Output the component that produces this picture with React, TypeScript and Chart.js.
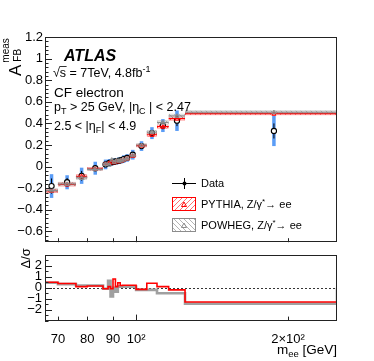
import React, { useEffect, useRef } from "react";
import { Chart, registerables } from "chart.js";
Chart.register(...registerables);

const FONT = '"Liberation Sans", Arimo, Arial, Helvetica, sans-serif';

// ---------- data ----------
const binEdges = [66, 70, 76, 80, 86, 88, 89, 90, 91, 92, 93, 94, 95, 97, 100, 105, 110, 116, 125, 250];
const dataAfb = [-0.18, -0.145, -0.085, -0.015, 0.02, 0.035, 0.04, 0.045, 0.05, 0.055, 0.06, 0.07, 0.08, 0.11, 0.19, 0.31, 0.38, 0.425, 0.33];
const dataTotErr = [0.11, 0.065, 0.075, 0.06, 0.045, 0.035, 0.03, 0.03, 0.03, 0.03, 0.03, 0.035, 0.035, 0.045, 0.045, 0.055, 0.06, 0.095, 0.14];
const dataStatErr = [0.07, 0.04, 0.045, 0.03, 0.02, 0.015, 0.012, 0.012, 0.012, 0.012, 0.012, 0.015, 0.015, 0.02, 0.025, 0.03, 0.035, 0.05, 0.07];
const pythiaAfb = [-0.225, -0.165, -0.09, -0.02, 0.025, 0.035, 0.045, 0.04, 0.05, 0.05, 0.055, 0.065, 0.075, 0.1, 0.195, 0.295, 0.37, 0.445, 0.49];
const powhegAfb = [-0.22, -0.16, -0.105, -0.025, 0.025, 0.02, 0.065, 0.045, 0.06, 0.055, 0.057, 0.065, 0.075, 0.105, 0.2, 0.32, 0.41, 0.47, 0.505];
const pythiaErr = [0.015, 0.015, 0.015, 0.012, 0.012, 0.012, 0.012, 0.012, 0.012, 0.012, 0.012, 0.012, 0.012, 0.012, 0.012, 0.015, 0.015, 0.015, 0.01];
const powhegErr = [0.015, 0.015, 0.015, 0.012, 0.012, 0.012, 0.012, 0.012, 0.012, 0.012, 0.012, 0.012, 0.012, 0.012, 0.012, 0.015, 0.015, 0.015, 0.012];
const pythiaPull = [0.5, 0.38, 0.1, 0.15, -0.1, 0.1, -0.1, 0.8, 0.1, 0.45, 0.2, 0.23, 0.23, 0.23, -0.15, 0.4, 0.1, -0.2, -1.3];
const powhegPull = [0.45, 0.33, 0.2, 0.2, -0.1, 0.63, -0.8, 0.0, -0.37, 0.13, 0.1, 0.1, 0.1, 0.1, -0.2, -0.2, -0.5, -0.5, -1.45];

const mainYTicks = [-0.6, -0.4, -0.2, 0, 0.2, 0.4, 0.6, 0.8, 1, 1.2];
const ratioYTicks = [-2, -1, 0, 1, 2];
const xTicks = [70, 80, 90, 100, 200];
const xTickLabels = ["70", "80", "90", "10²", "2×10²"];

const X_MIN = 66, X_MAX = 250;
const Y_MIN = -0.7, Y_MAX = 1.2;
const R_MIN = -3, R_MAX = 3;

const binCenters = binEdges.slice(0, -1).map((lo, i) => (lo + binEdges[i + 1]) / 2);

const BLUE = "#5a9cf6";
const RED = "#ff0000";
const GRAY = "#8c8c8c";

function fmtY(v: number) {
  const s = Math.abs(v) < 1e-9 ? "0" : Number.isInteger(v) ? String(Math.abs(v)) : Math.abs(v).toFixed(1);
  return v < -1e-9 ? "\u2212" + s : s;
}

type Seg = { t: string; size: number; dy?: number; font?: string };
function drawRich(ctx: CanvasRenderingContext2D, x: number, y: number, segs: Seg[], align: "left" | "right" = "left") {
  const widths = segs.map((s) => {
    ctx.font = `${s.font || ""} ${s.size}px ${FONT}`;
    return ctx.measureText(s.t).width;
  });
  const total = widths.reduce((a, b) => a + b, 0);
  let cx = align === "right" ? x - total : x;
  ctx.textAlign = "left";
  segs.forEach((s, i) => {
    ctx.font = `${s.font || ""} ${s.size}px ${FONT}`;
    ctx.fillText(s.t, cx, y + (s.dy || 0));
    cx += widths[i];
  });
  return total;
}

function makeHatch(ctx: CanvasRenderingContext2D, color: string, dir: number) {
  const c = document.createElement("canvas");
  c.width = 5;
  c.height = 5;
  const g = c.getContext("2d")!;
  g.strokeStyle = color;
  g.lineWidth = 0.8;
  g.beginPath();
  if (dir > 0) {
    g.moveTo(0, 5); g.lineTo(5, 0);
    g.moveTo(-1, 1); g.lineTo(1, -1);
    g.moveTo(4, 6); g.lineTo(6, 4);
  } else {
    g.moveTo(0, 0); g.lineTo(5, 5);
    g.moveTo(-1, 4); g.lineTo(1, 6);
    g.moveTo(4, -1); g.lineTo(6, 1);
  }
  g.stroke();
  return ctx.createPattern(c, "repeat")!;
}

function triangle(ctx: CanvasRenderingContext2D, x: number, y: number, s: number, color: string) {
  ctx.beginPath();
  ctx.moveTo(x, y - s);
  ctx.lineTo(x + s, y + s * 0.8);
  ctx.lineTo(x - s, y + s * 0.8);
  ctx.closePath();
  ctx.strokeStyle = color;
  ctx.lineWidth = 1;
  ctx.stroke();
}

function drawFrame(ctx: CanvasRenderingContext2D, a: { left: number; right: number; top: number; bottom: number }) {
  ctx.strokeStyle = "#222";
  ctx.lineWidth = 1;
  ctx.strokeRect(Math.round(a.left) + 0.5, Math.round(a.top) + 0.5, Math.round(a.right) - Math.round(a.left) - 1, Math.round(a.bottom) - Math.round(a.top) - 1);
}

const mainPlugin = {
  id: "mainDecor",
  beforeDatasetsDraw(chart: any) {
    const ctx: CanvasRenderingContext2D = chart.ctx;
    const x = chart.scales.x, y = chart.scales.y;
    ctx.save();
    binCenters.forEach((c, i) => {
      const px = x.getPixelForValue(c);
      ctx.strokeStyle = BLUE;
      ctx.lineWidth = 3.5;
      ctx.beginPath();
      ctx.moveTo(px, y.getPixelForValue(dataAfb[i] + dataTotErr[i]));
      ctx.lineTo(px, y.getPixelForValue(dataAfb[i] - dataTotErr[i]));
      ctx.stroke();
      ctx.strokeStyle = "#000";
      ctx.lineWidth = 1;
      ctx.beginPath();
      ctx.moveTo(px, y.getPixelForValue(dataAfb[i] + dataStatErr[i]));
      ctx.lineTo(px, y.getPixelForValue(dataAfb[i] - dataStatErr[i]));
      ctx.stroke();
    });
    ctx.restore();
  },
  afterDatasetsDraw(chart: any) {
    const ctx: CanvasRenderingContext2D = chart.ctx;
    const x = chart.scales.x, y = chart.scales.y;
    const a = chart.chartArea;
    const redHatch = makeHatch(ctx, "rgba(255,0,0,0.7)", 1);
    const grayHatch = makeHatch(ctx, "rgba(120,120,120,0.7)", -1);
    ctx.save();
    const drawMC = (vals: number[], errs: number[], pat: CanvasPattern, color: string) => {
      vals.forEach((v, i) => {
        const x0 = x.getPixelForValue(binEdges[i]);
        const x1 = x.getPixelForValue(binEdges[i + 1]);
        const y0 = y.getPixelForValue(v + errs[i]);
        const y1 = y.getPixelForValue(v - errs[i]);
        ctx.fillStyle = pat;
        ctx.fillRect(x0, y0, x1 - x0, y1 - y0);
        ctx.globalAlpha = 0.4;
        ctx.strokeStyle = color;
        ctx.lineWidth = 0.8;
        ctx.strokeRect(x0 + 0.5, y0, x1 - x0 - 1, y1 - y0);
        ctx.globalAlpha = 1;
        ctx.lineWidth = 1.2;
        ctx.beginPath();
        ctx.moveTo(x0, y.getPixelForValue(v));
        ctx.lineTo(x1, y.getPixelForValue(v));
        ctx.stroke();
        triangle(ctx, x.getPixelForValue(binCenters[i]), y.getPixelForValue(v), 2, color);
      });
    };
    ctx.beginPath();
    ctx.rect(a.left, a.top, a.right - a.left, a.bottom - a.top);
    ctx.clip();
    drawMC(pythiaAfb, pythiaErr, redHatch, RED);
    drawMC(powhegAfb, powhegErr, grayHatch, GRAY);
    ctx.restore();

    ctx.save();
    // frame and ticks
    drawFrame(ctx, a);
    ctx.strokeStyle = "#222";
    ctx.lineWidth = 1;
    ctx.beginPath();
    mainYTicks.forEach((v) => {
      const py = Math.round(y.getPixelForValue(v)) + 0.5;
      ctx.moveTo(a.left, py);
      ctx.lineTo(a.left + 7, py);
    });
    for (let k = 0; k <= 47; k++) {
      const v = -0.68 + k * 0.04;
      if (v > Y_MAX + 1e-6) break;
      const py = Math.round(y.getPixelForValue(v)) + 0.5;
      ctx.moveTo(a.left, py);
      ctx.lineTo(a.left + 3.5, py);
    }
    xTicks.forEach((v) => {
      const px = Math.round(x.getPixelForValue(v)) + 0.5;
      ctx.moveTo(px, a.bottom);
      ctx.lineTo(px, a.bottom - (v === 100 ? 6 : 4));
    });
    ctx.stroke();

    // y title
    ctx.fillStyle = "#000";
    ctx.textBaseline = "alphabetic";
    ctx.save();
    ctx.translate(20.5, 76);
    ctx.rotate(-Math.PI / 2);
    ctx.font = `17px ${FONT}`;
    ctx.fillText("A", 0, 0);
    const wA = ctx.measureText("A").width;
    ctx.font = `10px ${FONT}`;
    ctx.fillText("FB", wA + 3, 0.5);
    ctx.fillText("meas", wA + 2, -12);
    ctx.restore();

    // labels
    ctx.font = `italic bold 16px ${FONT}`;
    ctx.fillText("ATLAS", 64, 61);
    // sqrt s line
    ctx.font = `12.5px ${FONT}`;
    ctx.fillText("\u221A", 53, 77);
    const wSq = ctx.measureText("\u221A").width;
    const wS = ctx.measureText("s").width;
    ctx.beginPath();
    ctx.moveTo(53 + wSq - 0.5, 66.5);
    ctx.lineTo(53 + wSq + wS + 0.5, 66.5);
    ctx.lineWidth = 0.8;
    ctx.strokeStyle = "#000";
    ctx.stroke();
    drawRich(ctx, 53 + wSq, 77, [
      { t: "s = 7TeV, 4.8fb", size: 12.5 },
      { t: "-1", size: 9, dy: -5 },
    ]);
    drawRich(ctx, 54, 97, [{ t: "CF electron", size: 13.5 }]);
    drawRich(ctx, 54, 111, [
      { t: "p", size: 12.5 },
      { t: "T", size: 9, dy: 3 },
      { t: " > 25 GeV, |\u03B7", size: 12.5 },
      { t: "C", size: 9, dy: 3 },
      { t: " | < 2.47", size: 12.5 },
    ]);
    drawRich(ctx, 54, 130, [
      { t: "2.5 < |\u03B7", size: 12.5 },
      { t: "F", size: 9, dy: 3 },
      { t: "| < 4.9", size: 12.5 },
    ]);

    // legend
    ctx.strokeStyle = "#000";
    ctx.lineWidth = 1;
    ctx.beginPath();
    ctx.moveTo(172, 183.5);
    ctx.lineTo(196, 183.5);
    ctx.moveTo(184.5, 178);
    ctx.lineTo(184.5, 189);
    ctx.stroke();
    ctx.beginPath();
    ctx.arc(184.5, 183.5, 2, 0, Math.PI * 2);
    ctx.fillStyle = "#000";
    ctx.fill();

    ctx.fillStyle = redHatch;
    ctx.fillRect(172.5, 197.5, 23, 13);
    ctx.strokeStyle = RED;
    ctx.strokeRect(172.5, 197.5, 23, 13);
    triangle(ctx, 184, 204.5, 2.5, RED);

    ctx.fillStyle = grayHatch;
    ctx.fillRect(172.5, 218.5, 23, 13);
    ctx.strokeStyle = GRAY;
    ctx.strokeRect(172.5, 218.5, 23, 13);
    triangle(ctx, 184, 225.5, 2.5, GRAY);

    ctx.fillStyle = "#000";
    ctx.textBaseline = "middle";
    drawRich(ctx, 201, 184, [{ t: "Data", size: 11 }]);
    drawRich(ctx, 201, 205, [
      { t: "PYTHIA, Z/\u03B3", size: 11 },
      { t: "*", size: 8, dy: -3 },
      { t: "\u2192 ee", size: 11 },
    ]);
    drawRich(ctx, 201, 226, [
      { t: "POWHEG, Z/\u03B3", size: 11 },
      { t: "*", size: 8, dy: -3 },
      { t: "\u2192 ee", size: 11 },
    ]);
    ctx.restore();
  },
};

const ratioPlugin = {
  id: "ratioDecor",
  beforeDatasetsDraw(chart: any) {
    const ctx: CanvasRenderingContext2D = chart.ctx;
    const y = chart.scales.y;
    const a = chart.chartArea;
    ctx.save();
    ctx.strokeStyle = "#000";
    ctx.lineWidth = 0.8;
    ctx.setLineDash([2, 2]);
    const py = Math.round(y.getPixelForValue(0)) + 0.5;
    ctx.beginPath();
    ctx.moveTo(a.left, py);
    ctx.lineTo(a.right, py);
    ctx.stroke();
    ctx.restore();
  },
  afterDatasetsDraw(chart: any) {
    const ctx: CanvasRenderingContext2D = chart.ctx;
    const x = chart.scales.x, y = chart.scales.y;
    const a = chart.chartArea;
    ctx.save();
    drawFrame(ctx, a);
    ctx.strokeStyle = "#222";
    ctx.lineWidth = 1;
    ctx.beginPath();
    ratioYTicks.forEach((v) => {
      const py = Math.round(y.getPixelForValue(v)) + 0.5;
      ctx.moveTo(a.left, py);
      ctx.lineTo(a.left + 7, py);
    });
    for (let k = 0; k <= 12; k++) {
      const v = R_MIN + k * 0.5;
      const py = Math.round(y.getPixelForValue(v)) + 0.5;
      ctx.moveTo(a.left, py);
      ctx.lineTo(a.left + 3.5, py);
    }
    xTicks.forEach((v) => {
      const px = Math.round(x.getPixelForValue(v)) + 0.5;
      ctx.moveTo(px, a.bottom);
      ctx.lineTo(px, a.bottom - (v === 100 ? 6 : 4));
    });
    ctx.stroke();

    ctx.fillStyle = "#000";
    ctx.textBaseline = "alphabetic";
    ctx.save();
    ctx.translate(29.5, 24.5);
    ctx.rotate(-Math.PI / 2);
    ctx.font = `13px ${FONT}`;
    ctx.fillText("\u0394/\u03C3", 0, 0);
    ctx.restore();

    drawRich(
      ctx,
      337,
      110,
      [
        { t: "m", size: 13.5 },
        { t: "ee", size: 9.5, dy: 3 },
        { t: " [GeV]", size: 13.5 },
      ],
      "right"
    );
    ctx.restore();
  },
};

function stepData(vals: number[], closeToZero: boolean) {
  const pts = binEdges.map((e, i) => ({ x: e, y: vals[Math.min(i, vals.length - 1)] }));
  if (closeToZero) pts.push({ x: binEdges[binEdges.length - 1], y: 0 });
  return pts;
}

export default function App() {
  const mainRef = useRef<HTMLCanvasElement>(null);
  const ratioRef = useRef<HTMLCanvasElement>(null);

  useEffect(() => {
    const main = new Chart(mainRef.current!, {
      type: "scatter",
      data: {
        datasets: [
          {
            label: "Data",
            data: binCenters.map((c, i) => ({ x: c, y: dataAfb[i] })),
            pointRadius: 2.6,
            pointBackgroundColor: "#fff",
            pointBorderColor: "#000",
            pointBorderWidth: 1.1,
            showLine: false,
          },
        ],
      },
      options: {
        responsive: false,
        maintainAspectRatio: false,
        animation: false,
        events: [],
        layout: { padding: { left: 0, right: 37, top: 37, bottom: 3.5 } },
        plugins: { legend: { display: false }, tooltip: { enabled: false } },
        scales: {
          x: { type: "logarithmic", min: X_MIN, max: X_MAX, display: false },
          y: {
            type: "linear",
            min: Y_MIN,
            max: Y_MAX,
            afterFit: (s: any) => {
              s.width = 45;
            },
            afterBuildTicks: (s: any) => {
              s.ticks = mainYTicks.map((v) => ({ value: v }));
            },
            grid: { display: false, drawTicks: false },
            border: { display: false },
            ticks: {
              callback: (v: any) => fmtY(Number(v)),
              font: { family: FONT, size: 13 },
              color: "#000",
              padding: 2,
              autoSkip: false,
            },
          },
        },
      },
      plugins: [mainPlugin],
    } as any);

    const ratio = new Chart(ratioRef.current!, {
      type: "line",
      data: {
        datasets: [
          {
            label: "PYTHIA",
            data: stepData(pythiaPull, false),
            borderColor: RED,
            borderWidth: 1.6,
            stepped: "before",
            pointRadius: 0,
            fill: false,
          },
          {
            label: "POWHEG",
            data: stepData(powhegPull, true),
            borderColor: "#a0a0a0",
            borderWidth: 2.6,
            stepped: "before",
            pointRadius: 0,
            fill: false,
          },
        ],
      },
      options: {
        responsive: false,
        maintainAspectRatio: false,
        animation: false,
        events: [],
        layout: { padding: { left: 0, right: 37, top: 6.5, bottom: 0 } },
        plugins: { legend: { display: false }, tooltip: { enabled: false } },
        scales: {
          x: {
            type: "logarithmic",
            min: X_MIN,
            max: X_MAX,
            afterFit: (s: any) => {
              s.height = 40.4;
            },
            afterBuildTicks: (s: any) => {
              s.ticks = xTicks.map((v) => ({ value: v }));
            },
            grid: { display: false, drawTicks: false },
            border: { display: false },
            ticks: {
              callback: (_v: any, i: number) => xTickLabels[i],
              font: { family: FONT, size: 13 },
              color: "#000",
              padding: 11,
              autoSkip: false,
              maxRotation: 0,
              minRotation: 0,
            },
          },
          y: {
            type: "linear",
            min: R_MIN,
            max: R_MAX,
            afterFit: (s: any) => {
              s.width = 45;
            },
            afterBuildTicks: (s: any) => {
              s.ticks = ratioYTicks.map((v) => ({ value: v }));
            },
            grid: { display: false, drawTicks: false },
            border: { display: false },
            ticks: {
              callback: (v: any) => fmtY(Number(v)),
              font: { family: FONT, size: 13 },
              color: "#000",
              padding: 3,
              autoSkip: false,
            },
          },
        },
      },
      plugins: [ratioPlugin],
    } as any);

    return () => {
      main.destroy();
      ratio.destroy();
    };
  }, []);

  return (
    <div style={{ position: "absolute", left: 0, top: 0, width: 374, height: 361, background: "#fff" }}>
      <canvas ref={mainRef} width={374} height={252} style={{ position: "absolute", left: 0, top: 0, width: 374, height: 252 }} />
      <canvas ref={ratioRef} width={374} height={117} style={{ position: "absolute", left: 0, top: 244, width: 374, height: 117 }} />
    </div>
  );
}
